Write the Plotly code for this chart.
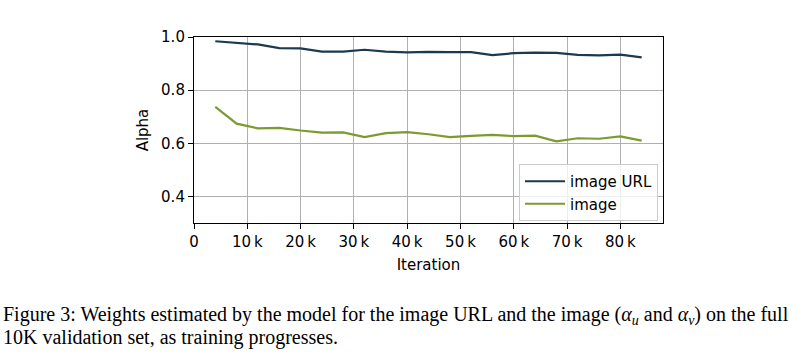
import plotly.graph_objects as go

iterations = [4000, 8000, 12000, 16000, 20000, 24000, 28000, 32000, 36000, 40000, 44000,
              48000, 52000, 56000, 60000, 64000, 68000, 72000, 76000, 80000, 84000]
alpha_url = [0.984, 0.978, 0.972, 0.958, 0.957, 0.945, 0.945, 0.952, 0.945, 0.942, 0.944,
             0.943, 0.943, 0.932, 0.939, 0.941, 0.940, 0.933, 0.931, 0.934, 0.923]
alpha_image = [0.737, 0.674, 0.656, 0.658, 0.648, 0.640, 0.641, 0.623, 0.638, 0.642, 0.634,
               0.623, 0.628, 0.632, 0.627, 0.629, 0.607, 0.619, 0.617, 0.626, 0.610]
x_tickvals = [0, 10000, 20000, 30000, 40000, 50000, 60000, 70000, 80000]
x_ticktext = ["0", "10\u2009k", "20\u2009k", "30\u2009k", "40\u2009k", "50\u2009k", "60\u2009k", "70\u2009k", "80\u2009k"]
y_tickvals = [0.4, 0.6, 0.8, 1.0]
y_ticktext = ["0.4", "0.6", "0.8", "1.0"]
caption_1 = "Figure 3: Weights estimated by the model for the image URL and the image (<i>α</i><sub><i>u</i></sub> and <i>α</i><sub><i>v</i></sub>) on the full"
caption_2 = "10K validation set, as training progresses."

W, H = 803, 354
L, R, T, B = 194, 140, 37, 131
pw, ph = W - L - R, H - T - B

fig = go.Figure()
fig.add_trace(go.Scatter(x=iterations, y=alpha_url, mode="lines", name="image URL",
                         line=dict(color="#1b3a4f", width=2.2)))
fig.add_trace(go.Scatter(x=iterations, y=alpha_image, mode="lines", name="image",
                         line=dict(color="#7b9b2e", width=2.2)))

axis_common = dict(showline=True, linecolor="black", linewidth=1.1, mirror=True,
                   ticks="outside", ticklen=5, tickwidth=1, tickcolor="black",
                   showgrid=True, gridcolor="#b0b0b0", gridwidth=1, zeroline=False,
                   tickfont=dict(family="DejaVu Sans", size=15, color="black"))

fig.update_xaxes(range=[0, 88000], tickmode="array", tickvals=x_tickvals, ticktext=x_ticktext,
                 title=dict(text="Iteration", font=dict(family="DejaVu Sans", size=15, color="black"), standoff=9),
                 **axis_common)
fig.update_yaxes(range=[0.3, 1.0], tickmode="array", tickvals=y_tickvals, ticktext=y_ticktext,
                 title=dict(text="Alpha", font=dict(family="DejaVu Sans", size=15, color="black"), standoff=8),
                 **axis_common)

fig.add_annotation(text=caption_1, xref="paper", yref="paper",
                   x=(1 - L) / pw, y=-(315 - (T + ph)) / ph, xanchor="left", yanchor="middle",
                   showarrow=False, font=dict(family="Liberation Serif", size=20, color="black"))
fig.add_annotation(text=caption_2, xref="paper", yref="paper",
                   x=(1 - L) / pw, y=-(337 - (T + ph)) / ph, xanchor="left", yanchor="middle",
                   showarrow=False, font=dict(family="Liberation Serif", size=20, color="black"))

fig.update_layout(
    width=W, height=H, autosize=False,
    margin=dict(l=L, r=R, t=T, b=B, pad=0),
    plot_bgcolor="white", paper_bgcolor="white",
    legend=dict(x=(519 - L) / pw, y=(T + ph - 164) / ph, xanchor="left", yanchor="top",
                bgcolor="rgba(255,255,255,0.8)", bordercolor="#cccccc", borderwidth=1,
                font=dict(family="DejaVu Sans", size=15, color="black"),
                itemwidth=40, tracegroupgap=0),
    showlegend=True,
)

fig.write_html("out.html")
